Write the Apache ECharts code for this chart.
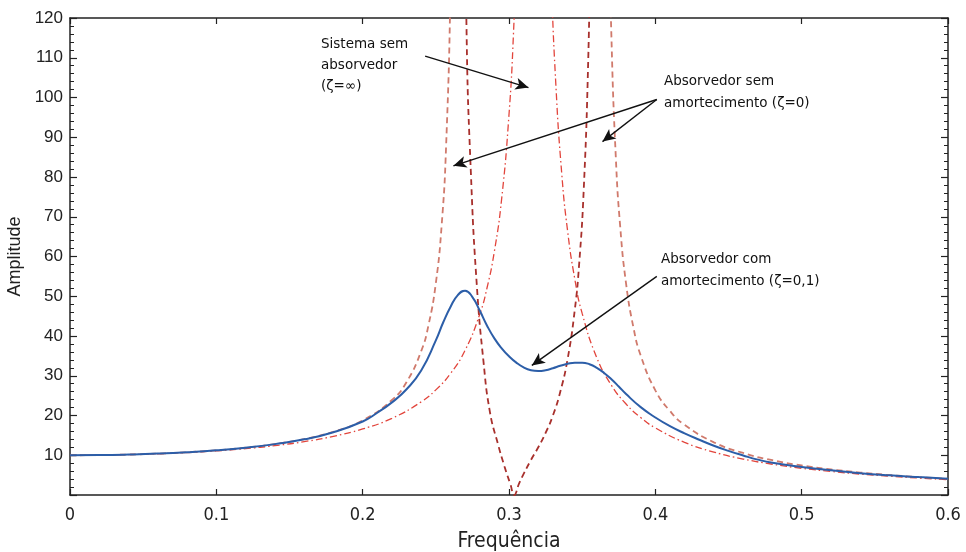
<!DOCTYPE html>
<html>
<head>
<meta charset="utf-8">
<script src="https://cdn.jsdelivr.net/npm/echarts@6/dist/echarts.min.js"></script>
<style>
  html, body { margin: 0; padding: 0; background: #fff; }
  #chart { width: 966px; height: 552px; }
</style>
</head>
<body>
<div id="chart"></div>
<script>
// Sistema sem absorvedor (zeta = inf), two branches around the resonance
const freqSistemaA = [0, 0.02, 0.04, 0.06, 0.08, 0.10, 0.12, 0.14, 0.16, 0.18, 0.20, 0.22, 0.24, 0.25, 0.26, 0.27, 0.28, 0.285, 0.29, 0.295, 0.30, 0.303, 0.306, 0.309]
const ampSistemaA = [10, 10.04, 10.16, 10.37, 10.68, 11.10, 11.67, 12.42, 13.42, 14.76, 16.61, 19.29, 23.43, 26.45, 30.55, 36.41, 45.48, 52.14, 61.28, 74.58, 95.71, 115.6, 146.4, 200.2]
const freqSistemaB = [0.326, 0.329, 0.332, 0.336, 0.34, 0.345, 0.35, 0.36, 0.37, 0.38, 0.39, 0.40, 0.42, 0.44, 0.46, 0.48, 0.50, 0.52, 0.54, 0.56, 0.58, 0.60]
const ampSistemaB = [174.0, 129.8, 103.35, 81.07, 66.56, 54.25, 45.68, 34.54, 27.61, 22.89, 19.48, 16.89, 13.24, 10.79, 9.05, 7.74, 6.72, 5.92, 5.26, 4.72, 4.26, 3.87]

// Absorvedor sem amortecimento (zeta = 0)
const freqSemAmortA = [0, 0.02, 0.04, 0.06, 0.08, 0.10, 0.12, 0.14, 0.16, 0.18, 0.20, 0.22, 0.23, 0.24, 0.245, 0.25, 0.254, 0.257, 0.26, 0.262]
const ampSemAmortA = [10, 10.04, 10.18, 10.41, 10.76, 11.24, 11.91, 12.81, 14.08, 15.91, 18.77, 23.90, 28.42, 36.20, 42.75, 53.29, 67.98, 87.61, 127.3, 188.5]
const freqSemAmortB = [0.269, 0.271, 0.274, 0.278, 0.2825, 0.287, 0.2925, 0.297, 0.301, 0.3035, 0.307, 0.31, 0.315, 0.32, 0.325, 0.33, 0.335, 0.34, 0.345, 0.348, 0.351, 0.354, 0.356]
const ampSemAmortB = [197.7, 116.7, 80.6, 52.8, 33.8, 20.8, 12.75, 7.08, 2.66, 0, 3.0, 5.3, 8.8, 12.0, 15.6, 20.0, 25.9, 34.1, 46.7, 58.4, 76.3, 107.4, 145.6]
const freqSemAmortC = [0.366, 0.368, 0.370, 0.373, 0.376, 0.38, 0.385, 0.39, 0.40, 0.41, 0.42, 0.44, 0.46, 0.48, 0.50, 0.52, 0.54, 0.56, 0.58, 0.60]
const ampSemAmortC = [224.8, 151.9, 115.2, 84.9, 67.5, 53.19, 42.21, 35.09, 26.34, 21.13, 17.65, 13.25, 10.57, 8.75, 7.44, 6.44, 5.65, 5.02, 4.50, 4.06]

// Absorvedor com amortecimento (zeta = 0,1)
const freqComAmort = [0, 0.02, 0.04, 0.06, 0.08, 0.10, 0.12, 0.14, 0.16, 0.18, 0.20, 0.21, 0.22, 0.23, 0.24, 0.25, 0.255, 0.26, 0.265, 0.27, 0.275, 0.28, 0.285, 0.29, 0.295, 0.30, 0.305, 0.31, 0.315, 0.32, 0.325, 0.33, 0.335, 0.34, 0.345, 0.35, 0.355, 0.36, 0.365, 0.37, 0.375, 0.38, 0.39, 0.40, 0.41, 0.42, 0.43, 0.44, 0.45, 0.46, 0.47, 0.48, 0.50, 0.52, 0.54, 0.56, 0.58, 0.60]
const ampComAmort = [10, 10.04, 10.18, 10.41, 10.76, 11.24, 11.9, 12.8, 14.0, 15.8, 18.5, 20.7, 23.3, 26.6, 31.3, 38.9, 43.4, 47.3, 50.3, 51.4, 49.8, 46.4, 42.6, 39.4, 36.9, 34.9, 33.3, 32.1, 31.4, 31.2, 31.4, 31.9, 32.5, 33.0, 33.3, 33.3, 32.9, 32.0, 30.7, 29.1, 27.3, 25.4, 22.1, 19.5, 17.3, 15.5, 13.9, 12.4, 11.1, 9.95, 8.9, 8.1, 7.05, 6.2, 5.5, 4.95, 4.5, 4.1]

// arrows: [start, end] in data coords
const arrows = [
  [[0.2427, 110.4], [0.3133, 102.5]],
  [[0.401, 99.5], [0.262, 82.8]],
  [[0.401, 99.5], [0.3639, 88.9]],
  [[0.401, 55.0], [0.3156, 32.6]]
]

const pairs = (xs, ys) => xs.map((x, i) => [x, ys[i]])

const axisColor = '#222'
const labelFont = "'Liberation Sans', Arial, sans-serif"
const narrowFont = "'Liberation Sans Narrow', 'DejaVu Sans Condensed', 'Liberation Sans', sans-serif"
const noteFont = "'DejaVu Sans', Verdana, sans-serif"

const sistemaStyle = { color: '#e2453c', width: 1.3, type: [7, 3, 1.5, 3] }
const semOuterStyle = { color: '#d07a6c', width: 1.8, type: [6, 4] }
const semInnerStyle = { color: '#a8302c', width: 1.8, type: [6, 4] }

const lineSeries = (name, data, style, z) => ({
  name,
  type: 'line',
  data,
  showSymbol: false,
  smooth: 0.5,
  clip: true,
  lineStyle: style,
  itemStyle: { color: style.color },
  z
})

const chart = echarts.init(document.getElementById('chart'))

chart.setOption({
  animation: false,
  backgroundColor: '#fff',
  grid: { left: 70, right: 18, top: 18, bottom: 57, outerBoundsMode: 'none', containLabel: false },
  xAxis: [
    {
      type: 'value', min: 0, max: 0.6, interval: 0.1,
      name: 'Frequência', nameLocation: 'middle', nameGap: 36,
      nameTextStyle: { fontFamily: narrowFont, fontSize: 21, color: '#222' },
      axisLine: { show: true, onZero: false, lineStyle: { color: axisColor, width: 1.5 } },
      axisTick: { show: true, inside: true, length: 6, lineStyle: { color: axisColor, width: 1.2 } },
      axisLabel: { fontFamily: narrowFont, fontSize: 18, color: '#222', margin: 11,
        formatter: v => (v === 0 ? '0' : String(Math.round(v * 10) / 10)) },
      splitLine: { show: false }
    },
    {
      type: 'value', min: 0, max: 0.6, interval: 0.1, position: 'top',
      axisLine: { show: true, onZero: false, lineStyle: { color: axisColor, width: 1.5 } },
      axisTick: { show: true, inside: true, length: 6, lineStyle: { color: axisColor, width: 1.2 } },
      axisLabel: { show: false },
      splitLine: { show: false }
    }
  ],
  yAxis: [
    {
      type: 'value', min: 0, max: 120, interval: 10,
      name: 'Amplitude', nameLocation: 'middle', nameGap: 46, nameRotate: 90,
      nameTextStyle: { fontFamily: labelFont, fontSize: 18, color: '#222' },
      axisLine: { show: true, onZero: false, lineStyle: { color: axisColor, width: 1.5 } },
      axisTick: { show: true, inside: true, length: 7, lineStyle: { color: axisColor, width: 1.2 } },
      minorTick: { show: true, splitNumber: 5, length: 4, lineStyle: { color: axisColor, width: 1 } },
      axisLabel: { fontFamily: labelFont, fontSize: 17, color: '#222', margin: 7,
        formatter: v => (v === 0 ? '' : String(v)) },
      splitLine: { show: false }
    },
    {
      type: 'value', min: 0, max: 120, interval: 10, position: 'right',
      axisLine: { show: true, onZero: false, lineStyle: { color: axisColor, width: 1.5 } },
      axisTick: { show: true, inside: true, length: 7, lineStyle: { color: axisColor, width: 1.2 } },
      minorTick: { show: true, splitNumber: 5, length: 4, lineStyle: { color: axisColor, width: 1 } },
      axisLabel: { show: false },
      splitLine: { show: false }
    }
  ],
  series: [
    lineSeries('Sistema sem absorvedor', pairs(freqSistemaA, ampSistemaA), sistemaStyle, 2),
    lineSeries('Sistema sem absorvedor ', pairs(freqSistemaB, ampSistemaB), sistemaStyle, 2),
    lineSeries('Absorvedor sem amortecimento', pairs(freqSemAmortA, ampSemAmortA), semOuterStyle, 3),
    lineSeries('Absorvedor sem amortecimento ', pairs(freqSemAmortB, ampSemAmortB), semInnerStyle, 3),
    lineSeries('Absorvedor sem amortecimento  ', pairs(freqSemAmortC, ampSemAmortC), semOuterStyle, 3),
    Object.assign(
      lineSeries('Absorvedor com amortecimento', pairs(freqComAmort, ampComAmort), { color: '#2c5ea8', width: 2 }, 4),
      {
        markLine: {
          silent: true,
          symbol: ['none', 'arrow'],
          symbolSize: [9, 13],
          label: { show: false },
          lineStyle: { color: '#111', width: 1.4, type: 'solid' },
          data: arrows.map(a => [{ coord: a[0] }, { coord: a[1] }])
        }
      }
    )
  ],
  graphic: [
    {
      type: 'text', left: 321, top: 34,
      style: { text: 'Sistema sem\nabsorvedor\n(ζ=∞)', font: '13.5px ' + noteFont, fill: '#111', lineHeight: 21 }
    },
    {
      type: 'text', left: 664, top: 70,
      style: { text: 'Absorvedor sem\namortecimento (ζ=0)', font: '13.5px ' + noteFont, fill: '#111', lineHeight: 22 }
    },
    {
      type: 'text', left: 661, top: 248,
      style: { text: 'Absorvedor com\namortecimento (ζ=0,1)', font: '13.5px ' + noteFont, fill: '#111', lineHeight: 22 }
    }
  ]
})
</script>
</body>
</html>
